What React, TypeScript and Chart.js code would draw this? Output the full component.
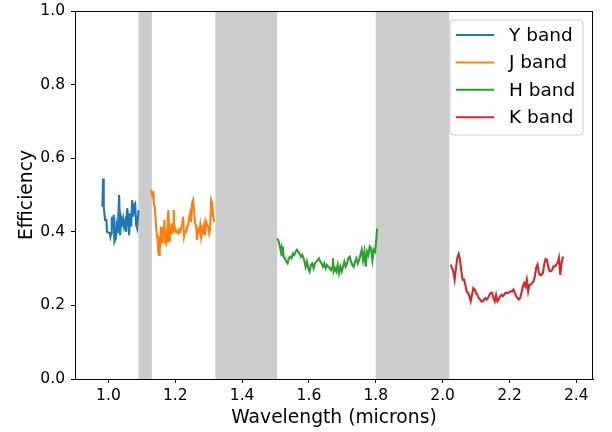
import React, { useEffect, useRef } from "react";
import { Chart, registerables } from "chart.js";

Chart.register(...registerables);

// Y band
const yBandWl = [0.982, 0.984, 0.986, 0.990, 0.994, 0.996, 1.000, 1.004, 1.006, 1.008, 1.010, 1.013, 1.016, 1.018, 1.022, 1.024, 1.028, 1.032, 1.035, 1.038, 1.041, 1.044, 1.047, 1.050, 1.053, 1.056, 1.059, 1.062, 1.065, 1.068, 1.071, 1.074, 1.077, 1.080, 1.083, 1.086, 1.090];
const yBandEff = [0.468, 0.545, 0.468, 0.432, 0.432, 0.400, 0.398, 0.396, 0.387, 0.396, 0.441, 0.409, 0.446, 0.373, 0.382, 0.418, 0.396, 0.500, 0.391, 0.437, 0.423, 0.437, 0.414, 0.427, 0.400, 0.464, 0.441, 0.391, 0.450, 0.414, 0.486, 0.441, 0.473, 0.477, 0.418, 0.409, 0.459];

// J band
const jBandWl = [1.1275, 1.1305, 1.1335, 1.1355, 1.1385, 1.1415, 1.1435, 1.1455, 1.1475, 1.1495, 1.1515, 1.1535, 1.1555, 1.1575, 1.1595, 1.1615, 1.1635, 1.1655, 1.1675, 1.1695, 1.1715, 1.1735, 1.1755, 1.1775, 1.1795, 1.1815, 1.1835, 1.1855, 1.1875, 1.1895, 1.1915, 1.1935, 1.1955, 1.1975, 1.1995, 1.2015, 1.2035, 1.2055, 1.2085, 1.2115, 1.2145, 1.2175, 1.2205, 1.2235, 1.2265, 1.2295, 1.2325, 1.2355, 1.2385, 1.2415, 1.2445, 1.2475, 1.2505, 1.2535, 1.2565, 1.2595, 1.2625, 1.2655, 1.2685, 1.2715, 1.2745, 1.2775, 1.2805, 1.2835, 1.2865, 1.2895, 1.2925, 1.2955, 1.2985, 1.3015, 1.3045, 1.3075, 1.3105, 1.3135, 1.3165];
const jBandEff = [0.514, 0.500, 0.505, 0.477, 0.468, 0.432, 0.405, 0.391, 0.373, 0.342, 0.337, 0.387, 0.378, 0.414, 0.387, 0.369, 0.409, 0.396, 0.432, 0.373, 0.369, 0.387, 0.373, 0.432, 0.459, 0.409, 0.373, 0.414, 0.396, 0.423, 0.409, 0.400, 0.459, 0.405, 0.400, 0.405, 0.400, 0.400, 0.396, 0.405, 0.400, 0.409, 0.418, 0.441, 0.387, 0.400, 0.400, 0.414, 0.418, 0.437, 0.450, 0.427, 0.477, 0.486, 0.455, 0.423, 0.418, 0.378, 0.405, 0.400, 0.418, 0.387, 0.409, 0.400, 0.418, 0.391, 0.427, 0.418, 0.414, 0.396, 0.409, 0.486, 0.477, 0.441, 0.427];

// H band
const hBandWl = [1.504, 1.508, 1.512, 1.516, 1.518, 1.520, 1.522, 1.524, 1.528, 1.532, 1.536, 1.540, 1.544, 1.548, 1.552, 1.556, 1.560, 1.564, 1.568, 1.572, 1.576, 1.580, 1.584, 1.588, 1.590, 1.594, 1.598, 1.602, 1.606, 1.610, 1.614, 1.618, 1.622, 1.626, 1.630, 1.634, 1.638, 1.642, 1.646, 1.650, 1.654, 1.658, 1.662, 1.666, 1.670, 1.672, 1.674, 1.678, 1.682, 1.686, 1.690, 1.694, 1.698, 1.702, 1.706, 1.710, 1.714, 1.718, 1.722, 1.726, 1.730, 1.734, 1.738, 1.742, 1.746, 1.750, 1.754, 1.758, 1.762, 1.766, 1.770, 1.774, 1.778, 1.782, 1.786, 1.790, 1.794, 1.798, 1.802, 1.804];
const hBandEff = [0.382, 0.378, 0.364, 0.346, 0.355, 0.337, 0.360, 0.332, 0.328, 0.319, 0.314, 0.328, 0.332, 0.328, 0.341, 0.337, 0.346, 0.351, 0.346, 0.341, 0.332, 0.337, 0.328, 0.314, 0.305, 0.319, 0.301, 0.292, 0.310, 0.314, 0.301, 0.314, 0.319, 0.323, 0.328, 0.319, 0.314, 0.305, 0.314, 0.301, 0.310, 0.305, 0.301, 0.296, 0.305, 0.328, 0.292, 0.301, 0.292, 0.310, 0.287, 0.305, 0.292, 0.305, 0.319, 0.305, 0.314, 0.328, 0.332, 0.319, 0.310, 0.305, 0.319, 0.328, 0.314, 0.323, 0.337, 0.351, 0.323, 0.346, 0.305, 0.346, 0.337, 0.360, 0.355, 0.323, 0.351, 0.346, 0.382, 0.409];

// K band
const kBandWl = [2.024, 2.028, 2.032, 2.036, 2.040, 2.044, 2.048, 2.052, 2.056, 2.060, 2.064, 2.068, 2.072, 2.076, 2.080, 2.084, 2.088, 2.092, 2.096, 2.100, 2.104, 2.108, 2.112, 2.116, 2.120, 2.124, 2.128, 2.132, 2.136, 2.140, 2.144, 2.148, 2.152, 2.156, 2.160, 2.164, 2.168, 2.172, 2.176, 2.180, 2.184, 2.188, 2.192, 2.196, 2.200, 2.204, 2.208, 2.212, 2.216, 2.220, 2.224, 2.228, 2.232, 2.236, 2.240, 2.244, 2.248, 2.252, 2.256, 2.260, 2.264, 2.268, 2.272, 2.276, 2.280, 2.284, 2.288, 2.292, 2.296, 2.300, 2.304, 2.308, 2.312, 2.316, 2.320, 2.324, 2.328, 2.332, 2.336, 2.340, 2.344, 2.348, 2.352, 2.356, 2.360];
const kBandEff = [0.311, 0.302, 0.293, 0.270, 0.302, 0.329, 0.340, 0.324, 0.293, 0.270, 0.270, 0.256, 0.238, 0.234, 0.225, 0.211, 0.229, 0.247, 0.243, 0.234, 0.229, 0.220, 0.216, 0.211, 0.211, 0.216, 0.220, 0.216, 0.220, 0.229, 0.234, 0.234, 0.220, 0.211, 0.229, 0.211, 0.216, 0.225, 0.229, 0.225, 0.229, 0.234, 0.234, 0.234, 0.236, 0.238, 0.238, 0.243, 0.234, 0.225, 0.220, 0.216, 0.220, 0.234, 0.252, 0.261, 0.252, 0.270, 0.238, 0.256, 0.256, 0.261, 0.265, 0.279, 0.302, 0.311, 0.288, 0.283, 0.283, 0.288, 0.311, 0.326, 0.324, 0.306, 0.293, 0.293, 0.297, 0.306, 0.306, 0.311, 0.315, 0.329, 0.283, 0.315, 0.333];

const bandLabels = ["Y band", "J band", "H band", "K band"];
const bandColors = ["#1f77b4", "#ff7f0e", "#2ca02c", "#d62728"];

// Shaded (gap) regions
const shadeStart = [1.09, 1.32, 1.8];
const shadeEnd = [1.13, 1.505, 2.02];

const xTicks = [1.0, 1.2, 1.4, 1.6, 1.8, 2.0, 2.2, 2.4];
const yTicks = [0.0, 0.2, 0.4, 0.6, 0.8, 1.0];

const FONT = '"DejaVu Sans", sans-serif';

function pts(xs: number[], ys: number[]) {
  return xs.map((x, i) => ({ x, y: ys[i] }));
}

const shadePlugin = {
  id: "shade",
  beforeDatasetsDraw(chart: any) {
    const { ctx, chartArea, scales } = chart;
    ctx.save();
    ctx.fillStyle = "#cccccc";
    for (let i = 0; i < shadeStart.length; i++) {
      const x0 = scales.x.getPixelForValue(shadeStart[i]);
      const x1 = scales.x.getPixelForValue(shadeEnd[i]);
      ctx.fillRect(x0, chartArea.top, x1 - x0, chartArea.bottom - chartArea.top);
    }
    ctx.restore();
  },
};

const framePlugin = {
  id: "frameLegend",
  afterDraw(chart: any) {
    const { ctx, chartArea } = chart;
    ctx.save();
    ctx.strokeStyle = "#000";
    ctx.lineWidth = 1;
    const l = Math.round(chartArea.left) + 0.5;
    const t = Math.round(chartArea.top) + 0.5;
    const r = Math.round(chartArea.right) - 0.5;
    const b = Math.round(chartArea.bottom) + 0.5;
    ctx.strokeRect(l, t, r - l, b - t);

    // legend
    const bw = 133;
    const bh = 115;
    const bx = chartArea.right - 10 - bw;
    const by = chartArea.top + 9;
    const rad = 3;
    ctx.beginPath();
    ctx.moveTo(bx + rad, by);
    ctx.lineTo(bx + bw - rad, by);
    ctx.arcTo(bx + bw, by, bx + bw, by + rad, rad);
    ctx.lineTo(bx + bw, by + bh - rad);
    ctx.arcTo(bx + bw, by + bh, bx + bw - rad, by + bh, rad);
    ctx.lineTo(bx + rad, by + bh);
    ctx.arcTo(bx, by + bh, bx, by + bh - rad, rad);
    ctx.lineTo(bx, by + rad);
    ctx.arcTo(bx, by, bx + rad, by, rad);
    ctx.closePath();
    ctx.fillStyle = "rgba(255,255,255,0.8)";
    ctx.fill();
    ctx.strokeStyle = "#cccccc";
    ctx.stroke();

    ctx.font = `18.5px ${FONT}`;
    ctx.textBaseline = "middle";
    ctx.textAlign = "left";
    chart.data.datasets.forEach((ds: any, i: number) => {
      const yy = by + 15 + i * 27.4;
      ctx.strokeStyle = ds.borderColor;
      ctx.lineWidth = 2;
      ctx.beginPath();
      ctx.moveTo(bx + 6, yy);
      ctx.lineTo(bx + 44, yy);
      ctx.stroke();
      ctx.fillStyle = "#000";
      ctx.fillText(ds.label, bx + 59, yy + 1);
    });
    ctx.restore();
  },
};

export default function App() {
  const canvasRef = useRef<HTMLCanvasElement | null>(null);

  useEffect(() => {
    if (!canvasRef.current) return;
    const series = [
      pts(yBandWl, yBandEff),
      pts(jBandWl, jBandEff),
      pts(hBandWl, hBandEff),
      pts(kBandWl, kBandEff),
    ];
    const chart = new Chart(canvasRef.current, {
      type: "scatter",
      data: {
        datasets: series.map((d, i) => ({
          label: bandLabels[i],
          data: d,
          showLine: true,
          borderColor: bandColors[i],
          backgroundColor: bandColors[i],
          borderWidth: 2.1,
          pointRadius: 0,
          pointHoverRadius: 0,
          tension: 0,
        })),
      },
      options: {
        responsive: false,
        animation: false,
        events: [],
        layout: { padding: { left: 0, top: 11, right: 19, bottom: 0 } },
        plugins: {
          legend: { display: false },
          tooltip: { enabled: false },
        },
        scales: {
          x: {
            type: "linear",
            min: 0.9,
            max: 2.45,
            afterFit: (s: any) => {
              s.height = 53;
              s.paddingLeft = 0;
              s.paddingRight = 0;
            },
            afterBuildTicks: (s: any) => {
              s.ticks = xTicks.map((v) => ({ value: v }));
            },
            ticks: {
              callback: (v: any) => Number(v).toFixed(1),
              font: { family: FONT, size: 15.5 },
              color: "#000",
              padding: 4,
              maxRotation: 0,
              autoSkip: false,
            },
            grid: {
              display: true,
              drawOnChartArea: false,
              drawTicks: true,
              tickLength: 4,
              color: "#000",
              lineWidth: 1,
            },
            border: { display: true, color: "#000", width: 1 },
            title: {
              display: true,
              text: "Wavelength (microns)",
              font: { family: FONT, size: 18.7 },
              color: "#000",
              padding: { top: 0, bottom: 3 },
            },
          },
          y: {
            type: "linear",
            min: 0,
            max: 1,
            afterFit: (s: any) => {
              s.width = 75;
              s.paddingTop = 0;
              s.paddingBottom = 0;
            },
            afterBuildTicks: (s: any) => {
              s.ticks = yTicks.map((v) => ({ value: v }));
            },
            ticks: {
              callback: (v: any) => Number(v).toFixed(1),
              font: { family: FONT, size: 15.5 },
              color: "#000",
              padding: 6,
              autoSkip: false,
            },
            grid: {
              display: true,
              drawOnChartArea: false,
              drawTicks: true,
              tickLength: 4,
              color: "#000",
              lineWidth: 1,
            },
            border: { display: true, color: "#000", width: 1 },
            title: {
              display: true,
              text: "Efficiency",
              font: { family: FONT, size: 18.7 },
              color: "#000",
              padding: { top: 16, bottom: 0 },
            },
          },
        },
      },
      plugins: [shadePlugin, framePlugin],
    });
    return () => chart.destroy();
  }, []);

  return (
    <div style={{ position: "absolute", left: 0, top: 0, width: 612, height: 432, background: "#fff" }}>
      <canvas ref={canvasRef} width={612} height={432} style={{ display: "block" }} />
    </div>
  );
}
